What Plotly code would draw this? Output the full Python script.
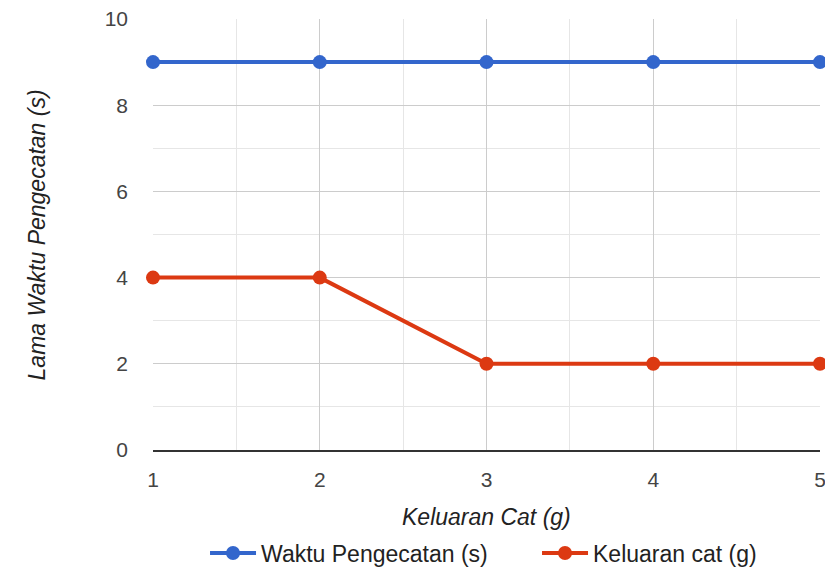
import plotly.graph_objects as go

# Data
x_vals = [1, 2, 3, 4, 5]
waktu_pengecatan = [9, 9, 9, 9, 9]
keluaran_cat = [4, 4, 2, 2, 2]

series_names = ["Waktu Pengecatan (s)", "Keluaran cat (g)"]
colors = ["#3366CC", "#DC3912"]

FONT = "Liberation Sans, Arial, sans-serif"

fig = go.Figure()
for name, ys, col in zip(series_names, [waktu_pengecatan, keluaran_cat], colors):
    fig.add_trace(go.Scatter(
        x=x_vals, y=ys, name=name, mode="lines+markers",
        line=dict(color=col, width=4),
        marker=dict(color=col, size=14),
        cliponaxis=False,
    ))

fig.update_layout(
    width=825, height=569,
    margin=dict(l=153, r=5, t=19, b=119, autoexpand=False),
    paper_bgcolor="white", plot_bgcolor="white",
    font=dict(family=FONT, size=21, color="#444444"),
    showlegend=True,
    legend=dict(
        orientation="h", x=0.078, xanchor="left",
        yref="container", y=0.028, yanchor="middle",
        font=dict(family=FONT, size=23, color="#222222"),
        entrywidth=271, entrywidthmode="pixels", tracegroupgap=0,
        itemwidth=46,
    ),
    xaxis=dict(
        range=[1, 5], tickvals=x_vals, ticktext=[str(v) for v in x_vals],
        showgrid=True, gridcolor="#CCCCCC", gridwidth=1,
        minor=dict(dtick=0.5, showgrid=True, gridcolor="#E6E6E6", gridwidth=1),
        showline=True, linecolor="#333333", linewidth=2,
        zeroline=False, ticks="", ticklabelstandoff=10,
        ticklabeloverflow="allow", automargin=False,
        tickfont=dict(size=21, color="#444444"),
    ),
    yaxis=dict(
        range=[0, 10], tickvals=[0, 2, 4, 6, 8, 10],
        showgrid=True, gridcolor="#CCCCCC", gridwidth=1,
        minor=dict(dtick=1, showgrid=True, gridcolor="#E6E6E6", gridwidth=1),
        showline=False, zeroline=False, ticks="", ticklabelstandoff=24,
        ticklabeloverflow="allow", automargin=False,
        tickfont=dict(size=21, color="#444444"),
    ),
    annotations=[
        dict(text="Keluaran Cat (g)", xref="paper", yref="paper",
             x=0.5, y=-0.155, xanchor="center", yanchor="middle", showarrow=False,
             font=dict(family=FONT, size=23, color="#222222", style="italic")),
        dict(text="Lama Waktu Pengecatan (s)", xref="paper", yref="paper",
             x=-0.174, y=0.5, xanchor="center", yanchor="middle", textangle=-90,
             showarrow=False,
             font=dict(family=FONT, size=23, color="#222222", style="italic")),
    ],
)

fig.write_html("out.html")
